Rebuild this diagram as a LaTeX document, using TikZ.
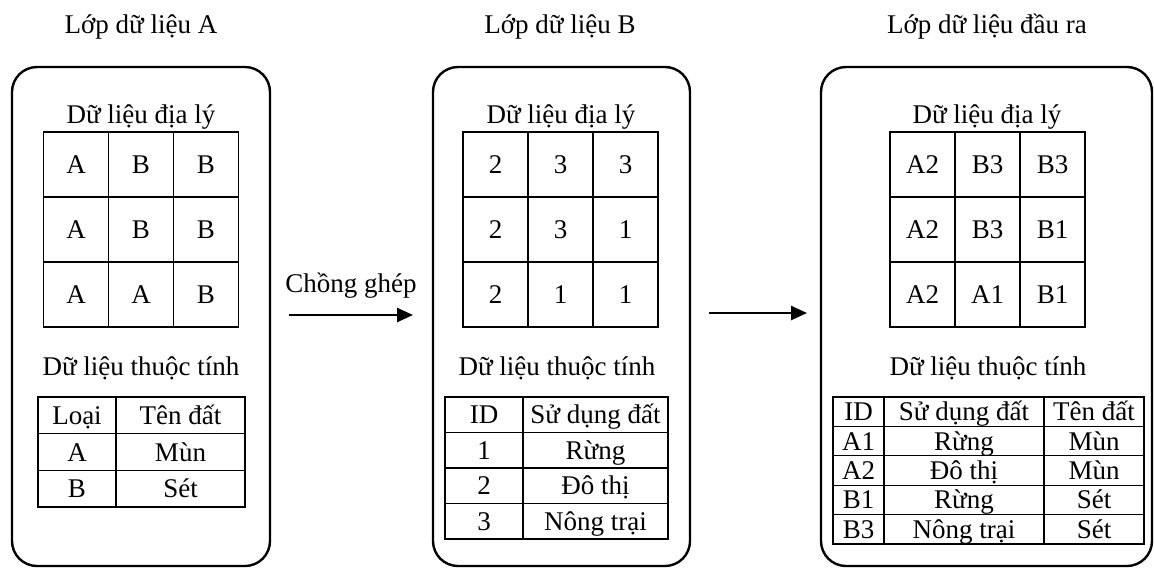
\documentclass[tikz,border=0pt]{standalone}
\usepackage{fontspec}
\setmainfont{Liberation Serif}
\usetikzlibrary{arrows.meta, positioning}
\tikzset{
    layer/.style={draw, rounded corners=25pt, line width=2.4pt, minimum height=499pt, inner sep=0pt},
    cell/.style={draw, line width=1.3pt, inner sep=0pt, outer sep=0pt, text height=18pt, text depth=0pt},
    pix/.style={cell, minimum size=65pt},
    flow/.style={line width=2.5pt, -{Triangle[length=16pt, width=14pt]}}
}

\begin{document}
\begin{tikzpicture}[x=1pt, y=-1pt, font=\fontsize{27}{32}\selectfont]
    \useasboundingbox (0,0) rectangle (1154,568);

    % Layer A
    \node[layer, minimum width=258pt] (boxA) at (141,316.5) {};
    \node[anchor=base] (titA) at (141,33) {Lớp dữ liệu A};
    \node[anchor=base] (geoA) at (141,123) {Dữ liệu địa lý};
    \foreach \v [count=\i from 0] in {A,B,B,A,B,B,A,A,B}
        \node[pix] (gA\i) at ({76+65*mod(\i,3)},{164.5+65*int(\i/3)}) {\v};
    \node[anchor=base] (attA) at (141,375) {Dữ liệu thuộc tính};
    \foreach \a/\b [count=\i from 0] in {Loại/Tên đất, A/Mùn, B/Sét} {
        \node[cell, minimum width=78pt, minimum height=36.7pt] (tA\i-1) at (77,{415.35+36.7*\i}) {\a};
        \node[cell, minimum width=129pt, minimum height=36.7pt, right=0pt of tA\i-1] (tA\i-2) {\b};
    }

    % Layer B
    \node[layer, minimum width=257pt] (boxB) at (561.5,316.5) {};
    \node[anchor=base] (titB) at (560,33) {Lớp dữ liệu B};
    \node[anchor=base] (geoB) at (561,123) {Dữ liệu địa lý};
    \foreach \v [count=\i from 0] in {2,3,3,2,3,1,2,1,1}
        \node[pix] (gB\i) at ({495.5+65*mod(\i,3)},{164.5+65*int(\i/3)}) {\v};
    \node[anchor=base] (attB) at (557,375) {Dữ liệu thuộc tính};
    \foreach \a/\b [count=\i from 0] in {ID/Sử dụng đất, 1/Rừng, 2/Đô thị, 3/Nông trại} {
        \node[cell, minimum width=78pt, minimum height=35.5pt] (tB\i-1) at (484,{414.75+35.5*\i}) {\a};
        \node[cell, minimum width=145pt, minimum height=35.5pt, right=0pt of tB\i-1] (tB\i-2) {\b};
    }

    % Output layer
    \node[layer, minimum width=331pt] (boxC) at (986.5,316.5) {};
    \node[anchor=base] (titC) at (987,33) {Lớp dữ liệu đầu ra};
    \node[anchor=base] (geoC) at (987,123) {Dữ liệu địa lý};
    \foreach \v [count=\i from 0] in {A2,B3,B3,A2,B3,B1,A2,A1,B1}
        \node[pix] (gC\i) at ({922.5+65*mod(\i,3)},{164.5+65*int(\i/3)}) {\v};
    \node[anchor=base] (attC) at (988,375) {Dữ liệu thuộc tính};
    \foreach \a/\b/\c [count=\i from 0] in {ID/Sử dụng đất/Tên đất, A1/Rừng/Mùn, A2/Đô thị/Mùn, B1/Rừng/Sét, B3/Nông trại/Sét} {
        \node[cell, minimum width=51pt, minimum height=29.4pt] (tC\i-1) at (858.5,{411.7+29.4*\i}) {\a};
        \node[cell, minimum width=160pt, minimum height=29.4pt, right=0pt of tC\i-1] (tC\i-2) {\b};
        \node[cell, minimum width=100pt, minimum height=29.4pt, right=0pt of tC\i-2] (tC\i-3) {\c};
    }

    % Arrows between layers
    \node[anchor=base] (overlay) at (351,292) {Chồng ghép};
    \coordinate (arrAs) at (289,315);
    \coordinate (arrAe) at (413,315);
    \coordinate (arrBs) at (709,313);
    \coordinate (arrBe) at (807,313);
    \draw[flow] (arrAs) -- (arrAe);
    \draw[flow] (arrBs) -- (arrBe);
\end{tikzpicture}
\end{document}
